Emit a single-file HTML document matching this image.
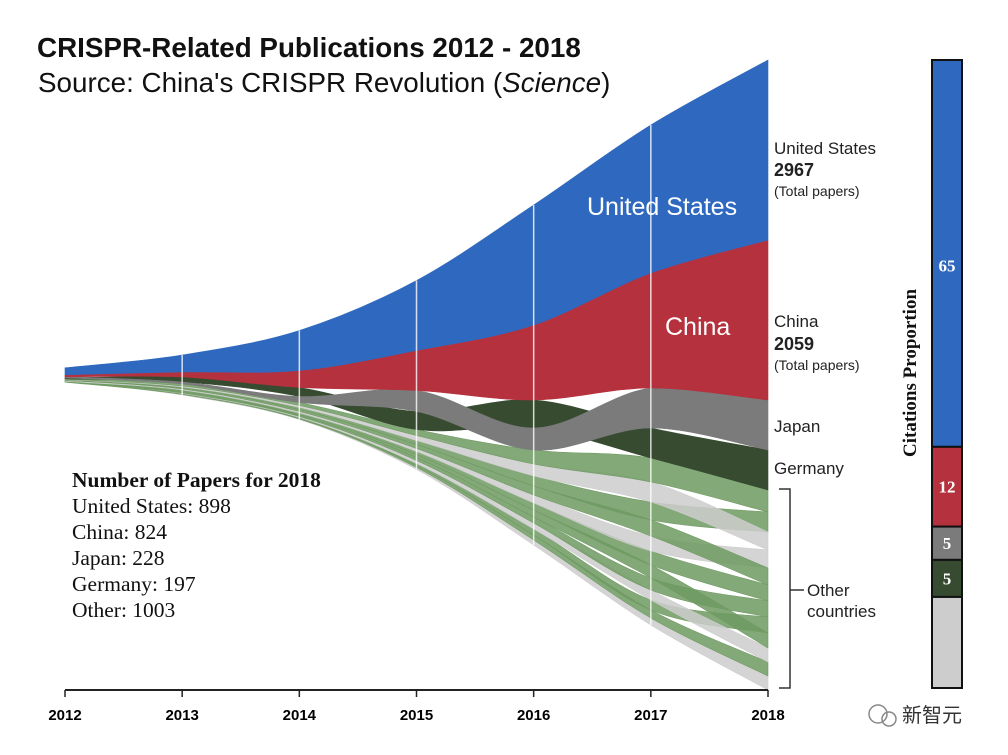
<!DOCTYPE html>
<html><head><meta charset="utf-8">
<style>
body{margin:0;background:#fff;}
#wrap{position:relative;width:1008px;height:755px;overflow:hidden;background:#fff;}
svg{position:absolute;left:0;top:0;}
.narrow{font-family:"Liberation Sans Narrow","Liberation Sans",sans-serif;}
</style></head>
<body>
<div id="wrap">
<svg id="svg" width="1008" height="755">
<text x="37" y="57" font-family="Liberation Sans, sans-serif" font-weight="bold" font-size="27.8" fill="#111">CRISPR-Related Publications 2012 - 2018</text>
<text x="38" y="92" font-family="Liberation Sans, sans-serif" font-size="27.8" fill="#111">Source: China's CRISPR Revolution (<tspan font-style="italic">Science</tspan>)</text>
<g id="ribbons"></g>
<g id="gridlines"></g>
<g id="axis"></g>
<text x="587" y="215" font-family="Liberation Sans, sans-serif" font-size="25" fill="#fff">United States</text>
<text x="665" y="335" font-family="Liberation Sans, sans-serif" font-size="25" fill="#fff">China</text>
<g class="narrow" font-size="17" fill="#222">
<text x="774" y="154">United States</text>
<text x="774" y="176" font-weight="bold" font-size="18">2967</text>
<text x="774" y="196" font-size="14">(Total papers)</text>
<text x="774" y="327">China</text>
<text x="774" y="350" font-weight="bold" font-size="18">2059</text>
<text x="774" y="370" font-size="14">(Total papers)</text>
<text x="774" y="432">Japan</text>
<text x="774" y="474">Germany</text>
<text x="807" y="596">Other</text>
<text x="807" y="617">countries</text>
</g>
<path d="M779,489 H790 V688 H779 M790,590 H804" fill="none" stroke="#333" stroke-width="1.5"/>
<g font-family="Liberation Serif, serif" font-size="21.5" fill="#111">
<text x="72" y="487" font-weight="bold" font-size="21.5">Number of Papers for 2018</text>
<text x="72" y="513">United States: 898</text>
<text x="72" y="539">China: 824</text>
<text x="72" y="565">Japan: 228</text>
<text x="72" y="591">Germany: 197</text>
<text x="72" y="617">Other: 1003</text>
</g>
<g id="citbar"></g>
<text transform="translate(916,373) rotate(-90)" text-anchor="middle" font-family="Liberation Serif, serif" font-weight="bold" font-size="19" fill="#111">Citations Proportion</text>
<g>
<circle cx="878" cy="714" r="9" fill="none" stroke="#888" stroke-width="1.5"/>
<circle cx="889" cy="719" r="7" fill="none" stroke="#888" stroke-width="1.5"/>
<text x="902" y="722" font-family="Noto Sans CJK SC, sans-serif" font-size="20" fill="#333">新智元</text>
</g>
</svg>
</div>
<script>
const years=[2012,2013,2014,2015,2016,2017,2018];
const usVals=[7,17,40,70,120,148,180];
const chinaVals=[2,5,17,40,75,115,160];
const japanVals=[1,2,6,21,22,40,50];
const germanyVals=[1,5,9,18,28,30,40];
const o1=[0.5,2,3,6,14,24,22];
const o2=[0.3,1,2,5,12,20,18];
const o3=[0.3,1,2,4,10,18,20];
const o4=[0.3,1,2,4,9,16,17];
const o5=[0.2,1,1.5,3,8,15,18];
const o6=[0.3,1,1.5,3,7,14,16];
const o7=[0.2,1,1,3,7,13,15];
const o8=[0.2,1,1,3,6,12,16];
const o9=[0.3,0.5,1,3,6,10,14];
const o10=[0.2,0.5,1,2,6,10,16];
const o11=[0.2,0.5,0.5,2,5,8,14];
const o12=[0.3,0.5,0.5,2,5,7,14];
const citCats=["United States","China","Japan","Germany","Other"];
const citVals=[61.6,12.7,5.3,5.9,14.5];
const citLabels=["65","12","5","5",""];

const NS="http://www.w3.org/2000/svg";
const X0=65,X1=768,CY=375,K=1;
const xScale=y=>X0+(y-2012)*(X1-X0)/6;
const hScale=v=>v*K;
const series=[
 {n:"united-states",v:usVals,c:"#2f69bf",fixed:0},
 {n:"china",v:chinaVals,c:"#b5313d",fixed:1},
 {n:"japan",v:japanVals,c:"#7b7b7b"},
 {n:"germany",v:germanyVals,c:"#364b30"},
];
const others=[o1,o2,o3,o4,o5,o6,o7,o8,o9,o10,o11,o12];
const grayIdx=[1,4,8,11];
others.forEach((v,i)=>series.push({n:"other-"+(i+1),v:v,c:grayIdx.includes(i)?"#cdcdcd":"#6f9a62",op:0.85}));
const pos=series.map(()=>[]);
years.forEach((yr,i)=>{
 const total=series.reduce((s,d)=>s+d.v[i],0);
 let y=CY-hScale(total)/2;
 const order=series.map((d,k)=>k).sort((a,b)=>{
  const fa=series[a].fixed,fb=series[b].fixed;
  if(fa!==undefined||fb!==undefined){return (fa!==undefined?fa:9)-(fb!==undefined?fb:9);}
  return series[b].v[i]-series[a].v[i];});
 order.forEach(k=>{const h=hScale(series[k].v[i]);pos[k][i]=[y,y+h];y+=h;});
});
function crSeg(pts,i){
 const p0=pts[Math.max(i-1,0)],p1=pts[i],p2=pts[i+1],p3=pts[Math.min(i+2,pts.length-1)];
 const c1=[p1[0]+(p2[0]-p0[0])/6,p1[1]+(p2[1]-p0[1])/6];
 const c2=[p2[0]-(p3[0]-p1[0])/6,p2[1]-(p3[1]-p1[1])/6];
 return " C"+c1[0]+","+c1[1]+" "+c2[0]+","+c2[1]+" "+p2[0]+","+p2[1];
}
const g=document.getElementById('ribbons');
const drawOrder=series.map((d,k)=>k).reverse();
drawOrder.forEach(k=>{
 const d=series[k];const p=pos[k];
 const top=years.map((yr,i)=>[xScale(yr),p[i][0]]);
 const bot=years.map((yr,i)=>[xScale(yr),p[i][1]]).reverse();
 let s="M"+top[0][0]+","+top[0][1];
 for(let i=0;i<top.length-1;i++)s+=crSeg(top,i);
 s+=" L"+bot[0][0]+","+bot[0][1];
 for(let i=0;i<bot.length-1;i++)s+=crSeg(bot,i);
 s+=" Z";
 const el=document.createElementNS(NS,'path');
 el.setAttribute('d',s);el.setAttribute('fill',d.c);
 if(d.op)el.setAttribute('fill-opacity',d.op);
 el.setAttribute('stroke',d.c);el.setAttribute('stroke-width','0.6');
 
 
 g.appendChild(el);
});
const gl=document.getElementById('gridlines');
years.slice(1,6).forEach((yr,j)=>{
 const i=j+1;let top=1e9,bot=-1e9;
 pos.forEach(p=>{top=Math.min(top,p[i][0]);bot=Math.max(bot,p[i][1]);});
 const l=document.createElementNS(NS,'line');
 l.setAttribute('x1',xScale(yr));l.setAttribute('x2',xScale(yr));
 l.setAttribute('y1',top);l.setAttribute('y2',bot);
 l.setAttribute('stroke','#fff');l.setAttribute('stroke-opacity','0.8');l.setAttribute('stroke-width','1.5');
 
 
 gl.appendChild(l);
});
const ax=document.getElementById('axis');
const base=document.createElementNS(NS,'line');
base.setAttribute('x1',X0);base.setAttribute('x2',X1);base.setAttribute('y1',690);base.setAttribute('y2',690);
base.setAttribute('stroke','#222');base.setAttribute('stroke-width','2');


ax.appendChild(base);
years.forEach(yr=>{
 const t=document.createElementNS(NS,'line');
 t.setAttribute('x1',xScale(yr));t.setAttribute('x2',xScale(yr));t.setAttribute('y1',690);t.setAttribute('y2',697);
 t.setAttribute('stroke','#222');t.setAttribute('stroke-width','1.5');
 
 
 ax.appendChild(t);
 const tx=document.createElementNS(NS,'text');
 tx.setAttribute('x',xScale(yr));tx.setAttribute('y',720);tx.setAttribute('text-anchor','middle');
 tx.setAttribute('font-family','Liberation Sans, sans-serif');tx.setAttribute('font-weight','bold');tx.setAttribute('font-size','15');
 tx.textContent=yr;
 
 
 ax.appendChild(tx);
});
const cb=document.getElementById('citbar');
const cCols=["#2f69bf","#b5313d","#7b7b7b","#364b30","#cdcdcd"];
const BT=60,BB=688,BX=932,BW=30;
const ctot=citVals.reduce((a,b)=>a+b,0);
let cy=BT;
citVals.forEach((v,i)=>{
 const h=(BB-BT)*v/ctot;
 const r=document.createElementNS(NS,'rect');
 r.setAttribute('x',BX);r.setAttribute('y',cy);r.setAttribute('width',BW);r.setAttribute('height',h);
 r.setAttribute('fill',cCols[i]);r.setAttribute('stroke','#111');r.setAttribute('stroke-width','2');
 
 
 cb.appendChild(r);
 if(citLabels[i]){
  const t=document.createElementNS(NS,'text');
  t.setAttribute('x',BX+BW/2);t.setAttribute('y',cy+h/2+(i===0?18:6));t.setAttribute('text-anchor','middle');
  t.setAttribute('font-family','Liberation Serif, serif');t.setAttribute('font-weight','bold');t.setAttribute('font-size','17');t.setAttribute('fill','#fff');
  t.textContent=citLabels[i];
  
  
  cb.appendChild(t);
 }
 cy+=h;
});
</script>
</body></html>
